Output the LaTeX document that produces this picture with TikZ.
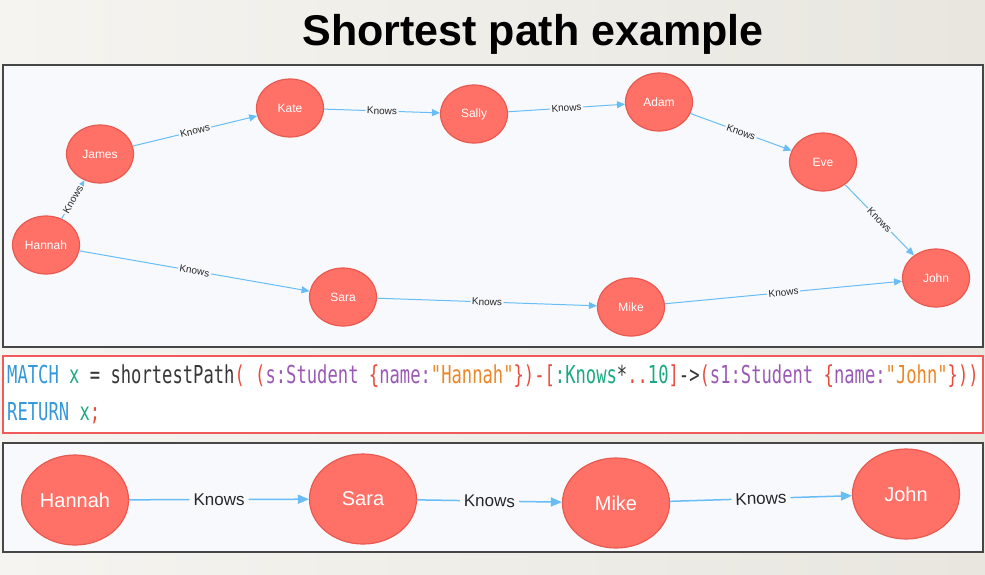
\documentclass[tikz,border=0pt]{standalone}
\usepackage{fontspec}
\setmainfont{Liberation Sans}
\newfontfamily\codefont[FakeStretch=0.695, Ligatures=TeXOff]{DejaVu Sans Mono}
\usetikzlibrary{shapes, arrows.meta, positioning}
\definecolor{bgleft}{RGB}{245, 244, 240}
\definecolor{bgright}{RGB}{232, 230, 223}
\definecolor{panelbg}{RGB}{248, 249, 252}
\definecolor{panelline}{RGB}{70, 70, 70}
\definecolor{codered}{RGB}{240, 90, 90}
\definecolor{nodered}{RGB}{255, 112, 102}
\definecolor{nodeedge}{RGB}{232, 90, 80}
\definecolor{relblue}{RGB}{104, 189, 246}
\definecolor{cyblue}{RGB}{52, 152, 219}
\definecolor{cygreen}{RGB}{26, 170, 130}
\definecolor{cypurple}{RGB}{155, 89, 182}
\definecolor{cyorange}{RGB}{235, 135, 40}
\definecolor{cyred}{RGB}{231, 76, 60}
\definecolor{cydark}{RGB}{55, 55, 55}

\begin{document}
\begin{tikzpicture}[x=1pt, y=-1pt,
  person/.style={ellipse, draw=nodeedge, line width=1.2pt, fill=nodered, text=white, inner sep=0pt, minimum width=67pt, minimum height=58pt, font=\fontsize{12}{14}\selectfont},
  bigperson/.style={person, minimum width=107pt, minimum height=90pt, font=\fontsize{20}{24}\selectfont},
  rel/.style={-{Triangle[length=8pt, width=7pt]}, line width=1pt, relblue},
  bigrel/.style={-{Triangle[length=11pt, width=9pt]}, line width=1.5pt, relblue},
  knows/.style={midway, sloped, fill=panelbg, inner sep=1.5pt, text=black!85, font=\fontsize{10}{12}\selectfont},
  bigknows/.style={knows, inner sep=4pt, font=\fontsize{17}{20}\selectfont},
  panel/.style={draw=panelline, line width=1.2pt, fill=panelbg},
  code/.style={anchor=base west, inner sep=0pt, text=cydark, font=\codefont\fontsize{24.7}{30}\selectfont}]

  % Background
  \shade[left color=bgleft, right color=bgright] (0,0) rectangle (985,574);
  \useasboundingbox (0,0) rectangle (985,574);

  % Title
  \node[anchor=base, font=\bfseries\fontsize{43}{50}\selectfont] (title) at (533, 45) {Shortest path example};

  % Panels
  \draw[panel] (3,65) rectangle (983,347);
  \draw[draw=codered, line width=1.2pt, fill=white] (3,356) rectangle (983,433);
  \draw[panel] (3,443) rectangle (983,552);

  % Graph
  \node[person] (hannah) at (46,245) {Hannah};
  \node[person] (james) at (100,154) {James};
  \node[person] (kate) at (290,108) {Kate};
  \node[person] (sally) at (474,114) {Sally};
  \node[person] (adam) at (659,102) {Adam};
  \node[person] (eve) at (823,162) {Eve};
  \node[person] (john) at (936,278) {John};
  \node[person] (sara) at (343,297) {Sara};
  \node[person] (mike) at (631,307) {Mike};

  \foreach \a/\b in {hannah/james, james/kate, kate/sally, sally/adam, adam/eve, eve/john, hannah/sara, sara/mike, mike/john}
    \draw[rel] (\a) -- node[knows] {Knows} (\b);

  % Query
  \node[code] (match) at (7,383) {\textcolor{cyblue}{MATCH} \textcolor{cygreen}{x} = shortestPath\textcolor{cyred}{(} \textcolor{cyred}{(}\textcolor{cypurple}{s:Student} \textcolor{cyred}{\{}\textcolor{cypurple}{name:}\textcolor{cyorange}{"Hannah"}\textcolor{cyred}{\})-[}\textcolor{cygreen}{:Knows}*\textcolor{cyred}{..}\textcolor{cygreen}{10}\textcolor{cyred}{]}->\textcolor{cyred}{(}\textcolor{cypurple}{s1:Student} \textcolor{cyred}{\{}\textcolor{cypurple}{name:}\textcolor{cyorange}{"John"}\textcolor{cyred}{\}))}};
  \node[code] (return) at (7,420) {\textcolor{cyblue}{RETURN} \textcolor{cygreen}{x}\textcolor{cyred}{;}};

  % Result
  \node[bigperson] (hannah2) at (75,500) {Hannah};
  \node[bigperson] (sara2) at (363,499) {Sara};
  \node[bigperson] (mike2) at (616,503) {Mike};
  \node[bigperson] (john2) at (906,494) {John};

  \foreach \a/\b in {hannah2/sara2, sara2/mike2, mike2/john2}
    \draw[bigrel] (\a) -- node[bigknows] {Knows} (\b);
\end{tikzpicture}
\end{document}
